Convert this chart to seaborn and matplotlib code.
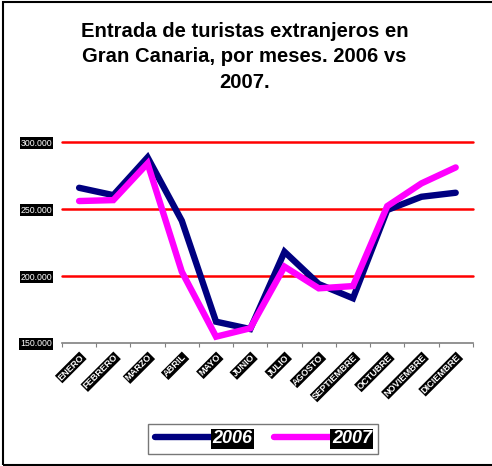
import matplotlib.pyplot as plt
import matplotlib.patches as mpatches
import numpy as np
import pandas as pd
import seaborn as sns

sns.set_theme(style="white")
plt.rcParams['font.family'] = ['Liberation Sans', 'DejaVu Sans']
plt.rcParams['text.color'] = 'black'

meses = ['ENERO', 'FEBRERO', 'MARZO', 'ABRIL', 'MAYO', 'JUNIO', 'JULIO',
         'AGOSTO', 'SEPTIEMBRE', 'OCTUBRE', 'NOVIEMBRE', 'DICIEMBRE']
turistas_2006 = [265900, 260400, 288600, 241300, 165900, 160400,
                 218100, 194000, 183400, 249300, 259200, 262200]
turistas_2007 = [256000, 256700, 284100, 203200, 154700, 161000,
                 207000, 190800, 192500, 252200, 269200, 281100]
yticks = [150000, 200000, 250000, 300000]

df = pd.DataFrame({
    'idx': list(range(len(meses))) * 2,
    'valor': turistas_2006 + turistas_2007,
    'anio': ['2006'] * len(meses) + ['2007'] * len(meses),
})

fig = plt.figure(figsize=(4.92, 4.66), dpi=100)
ax = fig.add_axes([0.126, 0.264, 0.835, 0.431])

# red gridlines
for v in yticks[1:]:
    ax.axhline(v, color='red', lw=1.8, zorder=1, clip_on=False)

sns.lineplot(data=df, x='idx', y='valor', hue='anio',
             palette={'2006': '#000080', '2007': '#ff00ff'},
             lw=4.6, ax=ax, legend=False, zorder=3,
             solid_capstyle='round', solid_joinstyle='miter')

ax.set_xlim(-0.5, 11.5)
ax.set_ylim(150000, 300000)
ax.set_xlabel('')
ax.set_ylabel('')
for s in ['top', 'right', 'left']:
    ax.spines[s].set_visible(False)
ax.spines['bottom'].set_color('#808080')
ax.spines['bottom'].set_linewidth(1.2)

ax.set_yticks(yticks)
ax.set_yticklabels([f'{v:,}'.replace(',', '.') for v in yticks],
                   fontsize=6.3, color='white',
                   bbox=dict(facecolor='black', edgecolor='none', pad=0.8))
ax.tick_params(axis='y', length=0, pad=7)

ax.set_xticks(np.arange(-0.5, 12, 1))
ax.set_xticklabels([])
ax.tick_params(axis='x', which='major', bottom=True, length=3, width=0.8,
               color='#808080', direction='out')
ax.set_xticks(np.arange(12), minor=True)
ax.set_xticklabels(meses, minor=True, rotation=45, ha='right',
                   rotation_mode='anchor', fontsize=6.6, fontweight='bold',
                   color='white',
                   bbox=dict(facecolor='black', edgecolor='none', pad=0.6))
ax.tick_params(axis='x', which='minor', length=0, pad=7)

fig.text(0.497, 0.878,
         'Entrada de turistas extranjeros en\nGran Canaria, por meses. 2006 vs\n2007.',
         ha='center', va='center', fontsize=14.6, fontweight='bold',
         color='black', linespacing=1.45)

# legend
handles = [plt.Line2D([], [], color='#000080', lw=4.6, solid_capstyle='round'),
           plt.Line2D([], [], color='#ff00ff', lw=4.6, solid_capstyle='round')]
leg = fig.legend(handles, ['2006', '2007'], loc='center',
                 bbox_to_anchor=(0.535, 0.058), ncol=2, frameon=True,
                 fancybox=False, edgecolor='#555555', handlelength=3.2,
                 columnspacing=1.2, handletextpad=0.0, borderpad=0.35,
                 prop=dict(size=13, weight='bold', style='italic'))
for t in leg.get_texts():
    t.set_color('white')
    t.set_bbox(dict(facecolor='black', edgecolor='none', pad=1))

# outer border
fig.patches.append(mpatches.Rectangle((3 / 492, 1 / 466), 1.2, 1 - 2.5 / 466,
                                      transform=fig.transFigure, fill=False,
                                      edgecolor='black', lw=1.5))

fig.savefig('out.png', dpi=100)
